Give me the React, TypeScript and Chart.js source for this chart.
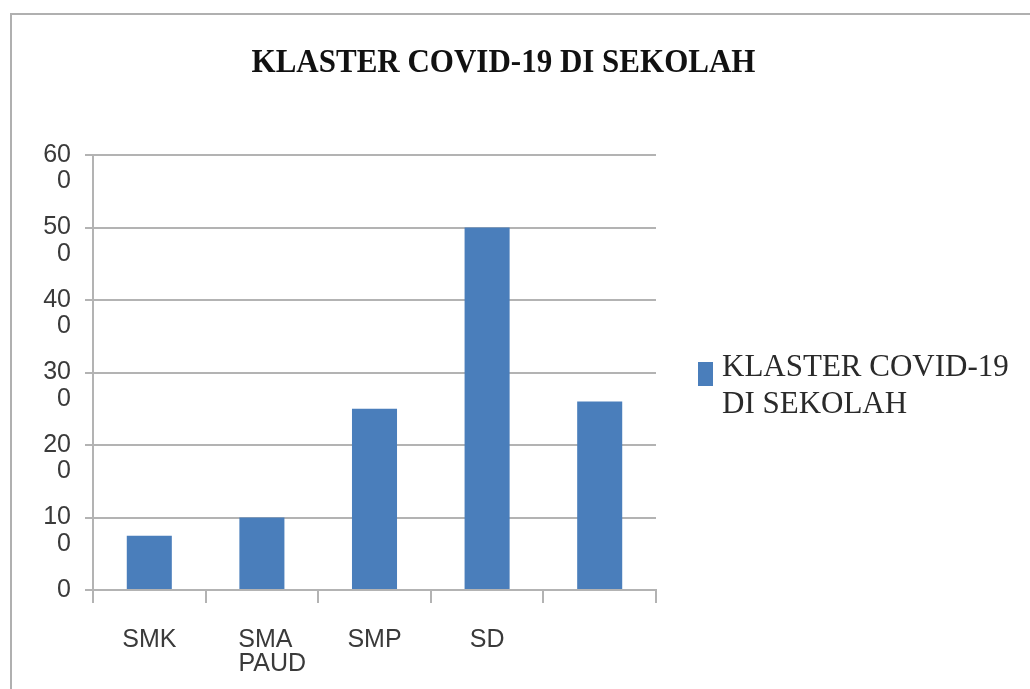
import React, { useEffect, useRef } from "react";
import { Chart, registerables } from "chart.js";

Chart.register(...registerables);

const categories: (string | string[])[] = ["SMK", [" SMA", "   PAUD"], "SMP", "SD", ""];
const seriesName = "KLASTER COVID-19 DI SEKOLAH";
const seriesValues = [75, 100, 250, 500, 260];
const yTickLines: string[][] = [["0"], ["", "10", "0"], ["", "20", "0"], ["", "30", "0"], ["", "40", "0"], ["", "50", "0"], ["", "60", "0"]];
const titleText = "KLASTER COVID-19 DI SEKOLAH";
const legendLines = ["KLASTER COVID-19", "DI SEKOLAH"];

const BAR_COLOR = "#4a7ebb";
const GRID_COLOR = "#b3b3b3";
const TEXT_COLOR = "#3a3a3a";

export default function App() {
  const ref = useRef<HTMLCanvasElement | null>(null);

  useEffect(() => {
    if (!ref.current) return;
    const chart = new Chart(ref.current, {
      type: "bar",
      data: {
        labels: categories,
        datasets: [
          {
            label: seriesName,
            data: seriesValues,
            backgroundColor: BAR_COLOR,
            borderWidth: 0,
            barPercentage: 0.4,
            categoryPercentage: 1,
          },
        ],
      },
      options: {
        animation: false,
        responsive: false,
        maintainAspectRatio: false,
        layout: { padding: { left: 0, right: 374, top: 155, bottom: 10 } },
        plugins: {
          legend: { display: false },
          title: { display: false },
          tooltip: { enabled: false },
        },
        scales: {
          x: {
            grid: {
              display: true,
              drawOnChartArea: false,
              drawTicks: true,
              tickLength: 13,
              color: GRID_COLOR,
              lineWidth: 2,
              offset: true,
            },
            border: { display: true, color: GRID_COLOR, width: 2 },
            ticks: {
              color: TEXT_COLOR,
              padding: 25,
              maxRotation: 0,
              autoSkip: false,
              font: { family: "'Liberation Sans', Arial, sans-serif", size: 25, lineHeight: 0.96 },
            },
            afterFit: (scale: any) => {
              scale.height = 89;
            },
          },
          y: {
            min: 0,
            max: 600,
            grid: {
              color: GRID_COLOR,
              lineWidth: 2,
              tickLength: 8,
              drawTicks: true,
            },
            border: { display: true, color: GRID_COLOR, width: 2 },
            ticks: {
              stepSize: 100,
              autoSkip: false,
              color: TEXT_COLOR,
              padding: 14,
              font: { family: "'Liberation Sans', Arial, sans-serif", size: 25, lineHeight: 1.06 },
              callback: (_v: any, i: number) => yTickLines[i],
            },
            afterFit: (scale: any) => {
              scale.width = 93;
            },
          },
        },
      },
    });
    return () => chart.destroy();
  }, []);

  return (
    <div style={{ position: "absolute", left: 0, top: 0, width: 1030, height: 689, overflow: "hidden", background: "#fff" }}>
      <div
        style={{
          position: "absolute",
          left: 10,
          top: 13,
          width: 1100,
          height: 800,
          borderLeft: "2px solid #b0b0b0",
          borderTop: "2px solid #b0b0b0",
        }}
      />
      <canvas ref={ref} width={1030} height={689} style={{ position: "absolute", left: 0, top: 0, width: 1030, height: 689 }} />
      <div
        style={{
          position: "absolute",
          left: 0,
          width: 1007,
          top: 43,
          textAlign: "center",
          fontFamily: "'Liberation Serif', 'Times New Roman', serif",
          fontWeight: "bold",
          fontSize: 31,
          lineHeight: "36px",
          color: "#111",
          transform: "scaleY(1.12)",
          whiteSpace: "nowrap",
        }}
      >
        {titleText}
      </div>
      <div style={{ position: "absolute", left: 698, top: 362, width: 15, height: 24, background: BAR_COLOR }} />
      <div
        style={{
          position: "absolute",
          left: 722,
          top: 347,
          fontFamily: "'Liberation Serif', 'Times New Roman', serif",
          fontSize: 31,
          lineHeight: "37px",
          color: "#2a2a2a",
          whiteSpace: "nowrap",
        }}
      >
        {legendLines.map((l, i) => (
          <div key={i}>{l}</div>
        ))}
      </div>
    </div>
  );
}
